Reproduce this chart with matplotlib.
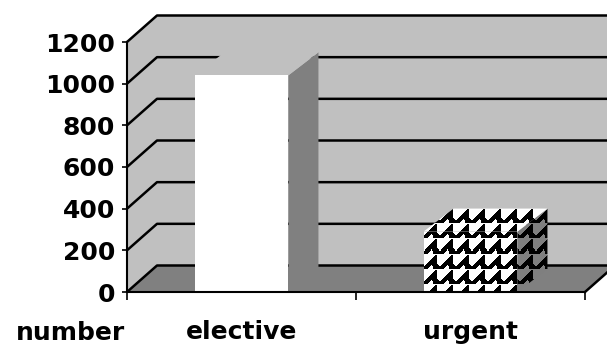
import numpy as np
import matplotlib
matplotlib.use("Agg")
import matplotlib.pyplot as plt
from matplotlib.patches import Polygon
from matplotlib.path import Path

# データ
categories = ["elective", "urgent"]
values = [1040, 290]
y_ticks = [0, 200, 400, 600, 800, 1000, 1200]
axis_title = "number"

# 色
WALL = "#c0c0c0"
FLOOR = "#808080"
SIDE = "#808080"

W, H = 607, 345
fig = plt.figure(figsize=(W / 100, H / 100), dpi=100)
ax = fig.add_axes([127 / W, (H - 292) / H, (585 - 127) / W, (292 - 42) / H])
ax.set_xlim(0, len(categories))
ax.set_ylim(0, y_ticks[-1])

# ピクセル -> データ単位の換算
pos = ax.get_position()
sx = pos.width * W / len(categories)
sy = pos.height * H / y_ticks[-1]
DX, DY = 30 / sx, 26.5 / sy      # 壁の奥行き
BX, BY = 30 / sx, 23 / sy        # 棒の奥行き
BAR_W = 0.41
XMAX = len(categories)


def poly(pts, color, z):
    p = Polygon(pts, closed=True, facecolor=color, edgecolor="none",
                zorder=z, clip_on=False, transform=ax.transData)
    ax.add_patch(p)
    return p


# 壁と床
poly([(DX, DY), (XMAX + DX, DY), (XMAX + DX, y_ticks[-1] + DY), (DX, y_ticks[-1] + DY)], WALL, 0.5)
poly([(0, 0), (0, y_ticks[-1]), (DX, y_ticks[-1] + DY), (DX, DY)], WALL, 0.5)
poly([(0, 0), (XMAX, 0), (XMAX + DX, DY), (DX, DY)], FLOOR, 0.6)

# 目盛線
for v in y_ticks:
    ax.plot([0, DX, XMAX + DX], [v, v + DY, v + DY], color="black", lw=1.8,
            zorder=0.8, clip_on=False, solid_capstyle="butt")
ax.plot([XMAX, XMAX + DX], [0, DY], color="black", lw=1.8, zorder=0.8, clip_on=False)


def pattern_tile():
    # のこぎり形の模様 1 単位 (16x15 px)
    tw, th = 16, 15
    shape = Path([(0, 13), (10, 2), (13, 1), (13, 10), (16, 13), (16, 14.5), (0, 14.5), (0, 13)])
    yy, xx = np.mgrid[0:th, 0:tw] + 0.5
    inside = shape.contains_points(np.c_[xx.ravel(), yy.ravel()]).reshape(th, tw)
    # 白い切り欠き
    notch = Path([(4, 14.5), (8, 10), (9, 14.5), (4, 14.5)])
    cut = notch.contains_points(np.c_[xx.ravel(), yy.ravel()]).reshape(th, tw)
    return inside & ~cut


def pattern_image(w, h, bg):
    tile = pattern_tile()
    th, tw = tile.shape
    big = np.tile(tile, (h // th + 2, w // tw + 2))[:h, :w]
    img = np.full((h, w, 3), bg, dtype=float)
    img[big] = 0.0
    return img


# 棒
for i, (name, v) in enumerate(zip(categories, values)):
    x0 = i + 0.5 - BAR_W / 2
    x1 = i + 0.5 + BAR_W / 2
    side = [(x1, 0), (x1 + BX, BY), (x1 + BX, v + BY), (x1, v)]
    top = [(x0, v), (x1, v), (x1 + BX, v + BY), (x0 + BX, v + BY)]
    front = [(x0, 0), (x1, 0), (x1, v), (x0, v)]
    if i == 0:
        poly(side, SIDE, 1.0)
        poly(top, WALL, 1.0)
        poly(front, "white", 1.1)
    else:
        ext = [x0, x1 + BX, 0, v + BY]
        w = int(round((x1 + BX - x0) * sx))
        h = int(round((v + BY) * sy))
        for pts, bg in [(side, 0.5), (top, 1.0), (front, 1.0)]:
            clip = poly(pts, "none", 1.0)
            im = ax.imshow(pattern_image(w, h, bg), extent=ext, origin="upper",
                           interpolation="nearest", aspect="auto", zorder=1.0)
            im.set_clip_path(clip)

ax.set_xlim(0, XMAX)
ax.set_ylim(0, y_ticks[-1])

# 軸
for s in ["top", "right"]:
    ax.spines[s].set_visible(False)
for s in ["left", "bottom"]:
    ax.spines[s].set_linewidth(1.5)
    ax.spines[s].set_zorder(3)

font = dict(family="DejaVu Sans", size=18, weight="bold")
ax.set_yticks(y_ticks)
ax.set_yticklabels([str(t) for t in y_ticks], fontdict=font)
ax.tick_params(axis="y", length=3.6, width=1.2, pad=5, direction="out")

ax.set_xticks(range(XMAX + 1))
ax.set_xticklabels([])
ax.set_xticks([i + 0.5 for i in range(XMAX)], minor=True)
ax.set_xticklabels(categories, minor=True, fontdict=font)
ax.tick_params(axis="x", which="major", length=5.8, width=1.2, direction="out")
ax.tick_params(axis="x", which="minor", length=0, pad=20)

fig.text(125 / W, (H - 340) / H, axis_title, ha="right", va="baseline", **font)

fig.savefig("out.png", dpi=100)
